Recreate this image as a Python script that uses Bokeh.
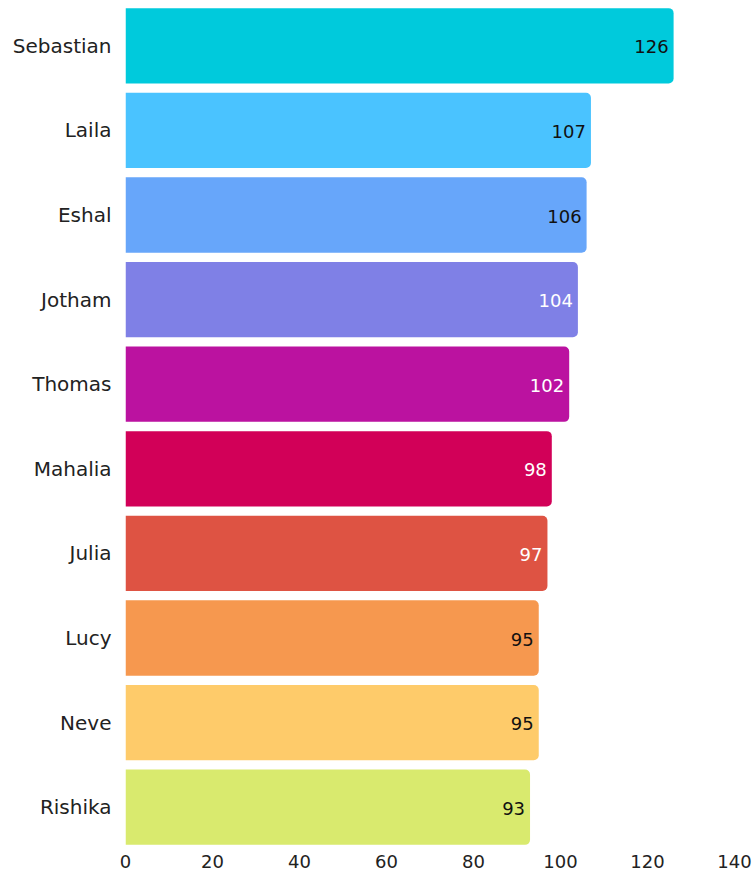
from bokeh.plotting import figure
from bokeh.models import ColumnDataSource, FactorRange
from bokeh.embed import file_html
from bokeh.resources import INLINE
from bokeh.core.properties import value

names = ["Sebastian", "Laila", "Eshal", "Jotham", "Thomas", "Mahalia", "Julia", "Lucy", "Neve", "Rishika"]
values = [126, 107, 106, 104, 102, 98, 97, 95, 95, 93]
colors = ["#00CADC", "#4AC3FF", "#67A6FA", "#7F80E6", "#BB12A0", "#D20058", "#DE5343", "#F6984F", "#FECB6A", "#D9EA6E"]
label_colors = ["#111111", "#111111", "#111111", "#FFFFFF", "#FFFFFF", "#FFFFFF", "#FFFFFF", "#111111", "#111111", "#111111"]
x_ticks = [0, 20, 40, 60, 80, 100, 120, 140]

FONT = "DejaVu Sans"

src = ColumnDataSource(dict(name=names, val=values, color=colors, lc=label_colors,
                            label=[str(v) for v in values]))

p = figure(width=752, height=870, output_backend="svg", toolbar_location=None,
           y_range=FactorRange(factors=names[::-1], range_padding=0),
           x_range=(0, 140), min_border_left=125, min_border_right=18,
           min_border_top=3, min_border_bottom=21)

p.hbar(y="name", right="val", left=0, height=0.89, fill_color="color", line_color=None,
       border_radius=(0, 5, 5, 0), source=src)
p.text(x="val", y="name", text="label", text_color="lc", text_align="right",
       text_baseline="middle", x_offset=-5, y_offset=1, text_font=value(FONT),
       text_font_size="18px", source=src)

p.outline_line_color = None
p.grid.visible = False
for ax in (p.xaxis[0], p.yaxis[0]):
    ax.axis_line_color = None
    ax.major_tick_line_color = None
    ax.minor_tick_line_color = None
    ax.major_tick_out = 0
    ax.major_tick_in = 0
    ax.minor_tick_out = 0
    ax.major_label_text_font = FONT
    ax.major_label_text_color = "#222222"
p.xaxis.major_label_text_font_size = "18px"
p.yaxis.major_label_text_font_size = "20px"
p.xaxis.ticker = x_ticks
p.xaxis.major_label_standoff = 5
p.yaxis.major_label_standoff = 14

open("out.html", "w").write(file_html(p, INLINE))
